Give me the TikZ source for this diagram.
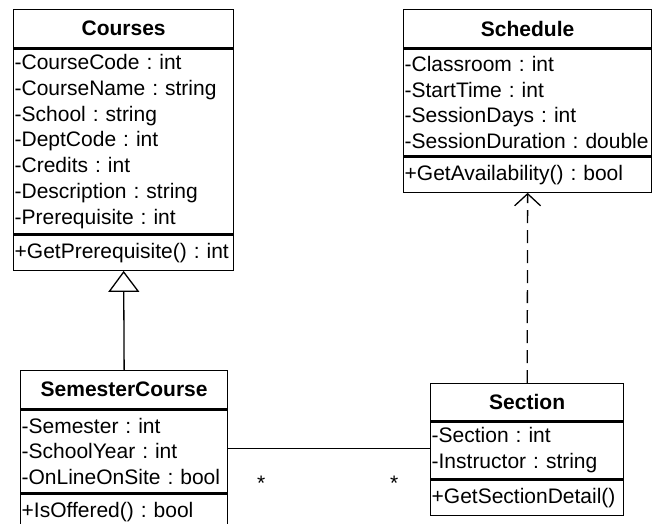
\documentclass[tikz,border=0pt]{standalone}
\usepackage{fontspec}
\setmainfont{Liberation Sans}
\usetikzlibrary{positioning,arrows.meta}
\frenchspacing

\begin{document}
\begin{tikzpicture}[x=1pt,y=-1pt,
		classhead/.style={draw,line width=1.3pt,fill=white,anchor=north west,inner xsep=1pt,inner ysep=0pt,align=center,minimum height=38pt,font=\fontsize{21}{25.8}\selectfont\bfseries},
		classpart/.style={draw,line width=1.3pt,fill=white,inner xsep=1pt,inner ysep=0pt,align=left,font=\fontsize{21}{25.8}\selectfont},
		inherit/.style={line width=1.3pt,-{Triangle[open,length=21pt,width=31pt]}},
		depend/.style={line width=1.3pt,dash pattern=on 13pt off 7pt,-{Straight Barb[length=12pt,width=26pt]}},
		assoc/.style={line width=1.3pt},
		mult/.style={font=\fontsize{21}{25.8}\selectfont,inner sep=0pt}]
		\useasboundingbox (0,0) rectangle (652,523);
		\node[classhead,text width=218pt] (c-h) at (13,9) {Courses};
		\node[classpart,text width=218pt,minimum height=185pt,below=0pt of c-h] (c-a) {-CourseCode : int\\-CourseName : string\\-School : string\\-DeptCode : int\\-Credits : int\\-Description : string\\-Prerequisite : int};
		\node[classpart,text width=218pt,minimum height=35pt,below=0pt of c-a] (c-o) {+GetPrerequisite() : int};
		\node[classhead,text width=246pt] (sch-h) at (403,9) {Schedule};
		\node[classpart,text width=246pt,minimum height=107pt,below=0pt of sch-h] (sch-a) {-Classroom : int\\-StartTime : int\\-SessionDays : int\\-SessionDuration : double};
		\node[classpart,text width=246pt,minimum height=35pt,below=0pt of sch-a] (sch-o) {+GetAvailability() : bool};
		\node[classhead,text width=205pt] (sc-h) at (20,370) {SemesterCourse};
		\node[classpart,text width=205pt,minimum height=83pt,below=0pt of sc-h] (sc-a) {-Semester : int\\-SchoolYear : int\\-OnLineOnSite : bool};
		\node[classpart,text width=205pt,minimum height=35pt,below=0pt of sc-a] (sc-o) {+IsOffered() : bool};
		\node[classhead,text width=191pt,minimum height=37pt] (s-h) at (430,383) {Section};
		\node[classpart,text width=191pt,minimum height=57pt,below=0pt of s-h] (s-a) {-Section : int\\-Instructor : string};
		\node[classpart,text width=191pt,minimum height=35pt,below=0pt of s-a] (s-o) {+GetSectionDetail()};
		\draw[inherit] (sc-h.north) -- (c-o.south);
		\draw[depend] (s-h.north) -- (sch-o.south);
		\draw[assoc] ([yshift=3pt]sc-a.east) -- ([yshift=3pt]sc-a.east -| s-a.west)
			node[mult,pos=0.163,yshift=-35pt] (m1) {*}
			node[mult,pos=0.823,yshift=-35pt] (m2) {*};
\end{tikzpicture}
\end{document}
